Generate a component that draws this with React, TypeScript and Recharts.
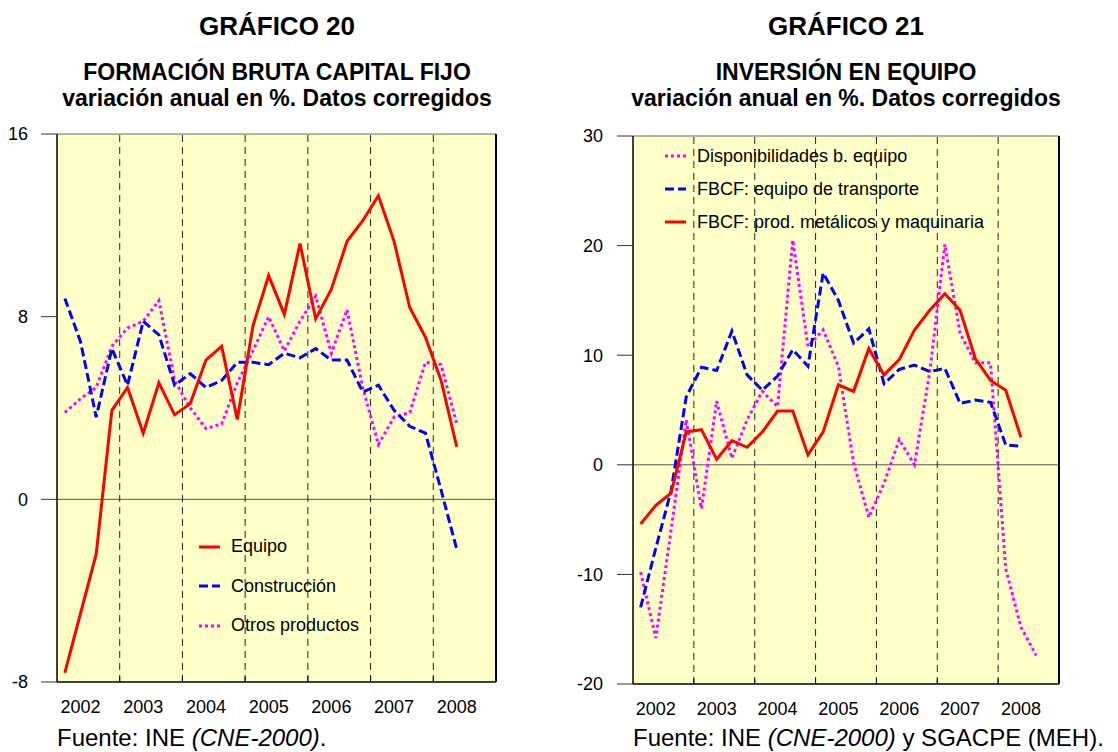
import React from "react";
import { LineChart, Line, XAxis, YAxis, CartesianGrid, ReferenceLine, Legend } from "recharts";

// quarters 2002-I .. 2008-III
const QUARTERS = [
  "2002-I", "2002-II", "2002-III", "2002-IV",
  "2003-I", "2003-II", "2003-III", "2003-IV",
  "2004-I", "2004-II", "2004-III", "2004-IV",
  "2005-I", "2005-II", "2005-III", "2005-IV",
  "2006-I", "2006-II", "2006-III", "2006-IV",
  "2007-I", "2007-II", "2007-III", "2007-IV",
  "2008-I", "2008-II", "2008-III",
];
const YEARS = ["2002", "2003", "2004", "2005", "2006", "2007", "2008"];

// Gráfico 20
const EQUIPO = [-7.6, -5.0, -2.4, 3.9, 4.9, 2.9, 5.1, 3.7, 4.2, 6.1, 6.7, 3.5, 7.6, 9.8, 8.1, 11.2, 7.9, 9.2, 11.3, 12.2, 13.3, 11.3, 8.4, 7.1, 5.2, 2.3];
const CONSTRUCCION = [8.8, 6.9, 3.6, 6.6, 5.0, 7.8, 7.2, 5.0, 5.5, 4.9, 5.2, 6.0, 6.0, 5.9, 6.4, 6.2, 6.6, 6.1, 6.1, 4.7, 5.0, 3.9, 3.2, 2.9, 0.4, -2.2];
const OTROS = [3.8, 4.4, 4.9, 6.7, 7.5, 7.8, 8.7, 5.2, 4.0, 3.1, 3.3, 5.1, 6.5, 8.0, 6.5, 7.8, 8.9, 6.4, 8.3, 4.9, 2.4, 3.6, 3.8, 6.0, 5.9, 3.3];
const TICKS_20 = [-8, 0, 8, 16];

// Gráfico 21
const DISPONIBILIDADES = [-9.8, -15.8, -6.0, 4.1, -4.0, 5.8, 0.6, 4.1, 6.7, 5.3, 20.5, 10.8, 12.3, 9.0, 0.2, -4.8, -1.7, 2.3, 0.0, 8.4, 20.1, 12.0, 9.3, 9.3, -9.5, -14.8, -17.4];
const TRANSPORTE = [-13.0, -7.6, -2.4, 6.2, 8.9, 8.6, 12.2, 8.2, 6.8, 8.1, 10.5, 9.0, 17.5, 15.0, 11.1, 12.4, 7.4, 8.7, 9.1, 8.5, 8.8, 5.6, 5.9, 5.7, 1.8, 1.7];
const METALICOS = [-5.4, -3.7, -2.6, 3.0, 3.2, 0.5, 2.2, 1.6, 3.0, 4.9, 4.9, 0.9, 3.0, 7.3, 6.7, 10.6, 8.2, 9.6, 12.3, 14.1, 15.6, 14.1, 9.7, 7.7, 6.8, 2.5];
const TICKS_21 = [-20, -10, 0, 10, 20, 30];

const FONT = "'Liberation Sans', Arial, Helvetica, sans-serif";
const BG = "#FFFFC8";
const RED = "#FF0000";
const BLUE = "#0000FF";
const MAGENTA = "#FF00FF";
const DASH = "9 4";
const DOT = "3 3";

// one point per quarter, centred in its quarter; 4 quarters per year
const yearTicks = YEARS.map((_, k) => k * 4 + 1.5);
const yearBounds = YEARS.slice(1).map((_, k) => (k + 1) * 4);
const yearLabel = (v: number) => YEARS[Math.round((v - 1.5) / 4)];

const data20 = EQUIPO.map((v, i) => ({
  x: i + 0.5,
  q: QUARTERS[i],
  equipo: v,
  construccion: CONSTRUCCION[i],
  otros: OTROS[i],
}));

const data21 = DISPONIBILIDADES.map((v, i) => ({
  x: i + 0.5,
  q: QUARTERS[i],
  disp: v,
  transporte: i < TRANSPORTE.length ? TRANSPORTE[i] : null,
  metalicos: i < METALICOS.length ? METALICOS[i] : null,
}));

const LegendBox = ({ payload, order, rowH }: any) => {
  const items = [...(payload || [])].sort((a: any, b: any) => order.indexOf(a.value) - order.indexOf(b.value));
  return (
    <div style={{ fontFamily: FONT }}>
      {items.map((it: any) => (
        <div key={it.value} style={{ display: "flex", alignItems: "center", height: rowH }}>
          <svg width={21} height={6} style={{ display: "block" }}>
            <line x1={0} y1={3} x2={21} y2={3} stroke={it.color} strokeWidth={3} strokeDasharray={it.payload?.strokeDasharray} />
          </svg>
          <span style={{ marginLeft: 11, fontSize: 18, color: "#000", whiteSpace: "nowrap" }}>{it.value}</span>
        </div>
      ))}
    </div>
  );
};

const Titles = ({ cx, num, sub }: { cx: number; num: string; sub: string }) => (
  <>
    <div style={{ position: "absolute", left: cx - 300, width: 600, top: 12, lineHeight: "28px", textAlign: "center", fontWeight: "bold", fontSize: 26 }}>
      GRÁFICO {num}
    </div>
    <div style={{ position: "absolute", left: cx - 300, width: 600, top: 59, lineHeight: "26px", textAlign: "center", fontWeight: "bold", fontSize: 23 }}>
      {sub}
      <br />
      variación anual en %. Datos corregidos
    </div>
  </>
);

const tickStyle = { fill: "#000", fontSize: 18, fontFamily: FONT };

export default function App() {
  return (
    <div style={{ position: "absolute", left: 0, top: 0, width: 1118, height: 752, background: "#fff", fontFamily: FONT, color: "#000" }}>
      <Titles cx={277} num="20" sub="FORMACIÓN BRUTA CAPITAL FIJO" />
      <Titles cx={846} num="21" sub="INVERSIÓN EN EQUIPO" />

      <div style={{ position: "absolute", left: 0, top: 0 }}>
        <LineChart width={560} height={752} data={data20} margin={{ top: 134, right: 0, bottom: 40, left: 0 }}>
          <CartesianGrid horizontal={false} vertical={false} fill={BG} fillOpacity={1} yAxisId="l" />
          <XAxis type="number" dataKey="x" domain={[0, 28]} ticks={yearTicks} interval={0} tickFormatter={yearLabel}
            height={30} tickLine={false} tickSize={0} tickMargin={18} axisLine={{ stroke: "#000", strokeWidth: 1.5 }} tick={tickStyle} />
          <YAxis yAxisId="l" type="number" domain={[-8, 16]} ticks={TICKS_20} interval={0} width={57}
            tickSize={16} tickMargin={13} tick={tickStyle} tickLine={{ stroke: "#333" }} axisLine={{ stroke: "#000", strokeWidth: 1.5 }} />
          <YAxis yAxisId="r" orientation="right" type="number" domain={[-8, 16]} ticks={TICKS_20} interval={0} width={64}
            tickSize={16} tickMargin={13} tick={tickStyle} tickLine={{ stroke: "#333" }} axisLine={{ stroke: "#000", strokeWidth: 2 }} />
          <ReferenceLine yAxisId="l" y={16} stroke="#666" />
          <ReferenceLine yAxisId="l" y={0} stroke="#555" />
          {yearBounds.map((b) => (
            <ReferenceLine key={"d" + b} yAxisId="l" x={b} stroke="#222" strokeDasharray="7 5" />
          ))}
          {yearBounds.map((b) => (
            <ReferenceLine key={"t" + b} yAxisId="l" segment={[{ x: b, y: -8 }, { x: b, y: -7.75 }]} stroke="#000" />
          ))}
          <Legend layout="horizontal" verticalAlign="middle" align="center"
            wrapperStyle={{ left: 199, top: 527, width: "auto", height: "auto" }}
            content={(p: any) => <LegendBox payload={p.payload} order={["Equipo", "Construcción", "Otros productos"]} rowH={39.5} />} />
          <Line yAxisId="l" type="linear" dataKey="otros" name="Otros productos" stroke={MAGENTA} strokeWidth={3} strokeDasharray={DOT} dot={false} isAnimationActive={false} />
          <Line yAxisId="l" type="linear" dataKey="construccion" name="Construcción" stroke={BLUE} strokeWidth={3} strokeDasharray={DASH} dot={false} isAnimationActive={false} />
          <Line yAxisId="l" type="linear" dataKey="equipo" name="Equipo" stroke={RED} strokeWidth={3} dot={false} isAnimationActive={false} />
        </LineChart>
      </div>

      <div style={{ position: "absolute", left: 560, top: 0 }}>
        <LineChart width={558} height={752} data={data21} margin={{ top: 136, right: 0, bottom: 38, left: 0 }}>
          <CartesianGrid horizontal={false} vertical={false} fill={BG} fillOpacity={1} yAxisId="l" />
          <XAxis type="number" dataKey="x" domain={[0, 28]} ticks={yearTicks} interval={0} tickFormatter={yearLabel}
            height={30} tickLine={false} tickSize={0} tickMargin={18} axisLine={{ stroke: "#000", strokeWidth: 1.5 }} tick={tickStyle} />
          <YAxis yAxisId="l" type="number" domain={[-20, 30]} ticks={TICKS_21} interval={0} width={73}
            tickSize={16} tickMargin={14} tick={tickStyle} tickLine={{ stroke: "#333" }} axisLine={{ stroke: "#000", strokeWidth: 1.5 }} />
          <YAxis yAxisId="r" orientation="right" type="number" domain={[-20, 30]} ticks={TICKS_21} interval={0} width={59}
            tickSize={16} tickMargin={13} tick={tickStyle} tickLine={{ stroke: "#333" }} axisLine={{ stroke: "#000", strokeWidth: 2 }} />
          <ReferenceLine yAxisId="l" y={30} stroke="#666" />
          <ReferenceLine yAxisId="l" y={0} stroke="#555" />
          {yearBounds.map((b) => (
            <ReferenceLine key={"d" + b} yAxisId="l" x={b} stroke="#222" strokeDasharray="7 5" />
          ))}
          {yearBounds.map((b) => (
            <ReferenceLine key={"t" + b} yAxisId="l" segment={[{ x: b, y: -20 }, { x: b, y: -19.5 }]} stroke="#000" />
          ))}
          <Legend layout="horizontal" verticalAlign="middle" align="center"
            wrapperStyle={{ left: 105, top: 139.5, width: "auto", height: "auto" }}
            content={(p: any) => (
              <LegendBox payload={p.payload} rowH={33}
                order={["Disponibilidades b. equipo", "FBCF: equipo de transporte", "FBCF: prod. metálicos y maquinaria"]} />
            )} />
          <Line yAxisId="l" type="linear" dataKey="disp" name="Disponibilidades b. equipo" stroke={MAGENTA} strokeWidth={3} strokeDasharray={DOT} dot={false} isAnimationActive={false} />
          <Line yAxisId="l" type="linear" dataKey="transporte" name="FBCF: equipo de transporte" stroke={BLUE} strokeWidth={3} strokeDasharray={DASH} dot={false} isAnimationActive={false} />
          <Line yAxisId="l" type="linear" dataKey="metalicos" name="FBCF: prod. metálicos y maquinaria" stroke={RED} strokeWidth={3} dot={false} isAnimationActive={false} />
        </LineChart>
      </div>

      <div style={{ position: "absolute", left: 57, top: 724, fontSize: 24, lineHeight: "28px", whiteSpace: "nowrap" }}>
        Fuente: INE <i>(CNE-2000)</i>.
      </div>
      <div style={{ position: "absolute", left: 633, top: 724, fontSize: 24, lineHeight: "28px", whiteSpace: "nowrap" }}>
        Fuente: INE <i>(CNE-2000)</i> y SGACPE (MEH).
      </div>
    </div>
  );
}
